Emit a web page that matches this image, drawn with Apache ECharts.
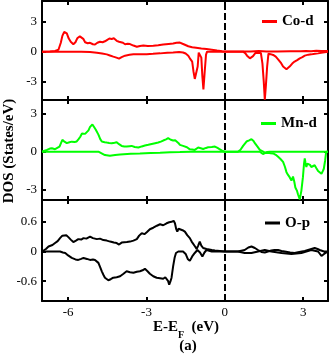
<!DOCTYPE html>
<html>
<head>
<meta charset="utf-8">
<title>DOS</title>
<script src="https://cdn.jsdelivr.net/npm/echarts@6/dist/echarts.min.js"></script>
<style>
  html, body { margin: 0; padding: 0; background: #fff; }
  #chart { width: 332px; height: 359px; }
</style>
</head>
<body>
<div id="chart"></div>
<script>
// [E - E_F (eV), DOS] pairs
const coUp = [[-7.0,0],[-6.7,0.02],[-6.5,0.08],[-6.37,0.2],[-6.28,0.9],[-6.22,1.6],[-6.15,2.0],[-6.05,1.85],[-5.98,1.35],[-5.9,1.0],[-5.8,0.75],[-5.72,0.95],[-5.65,1.35],[-5.55,1.55],[-5.48,1.67],[-5.42,1.3],[-5.35,0.95],[-5.25,0.85],[-5.16,0.9],[-5.05,0.75],[-4.97,0.72],[-4.88,0.9],[-4.78,1.0],[-4.68,0.95],[-4.59,1.05],[-4.5,1.2],[-4.42,1.33],[-4.33,1.28],[-4.25,1.35],[-4.14,1.1],[-4.05,1.0],[-4.0,0.85],[-3.9,0.9],[-3.82,0.75],[-3.72,0.8],[-3.63,0.77],[-3.5,0.62],[-3.37,0.5],[-3.25,0.58],[-3.12,0.62],[-2.95,0.58],[-2.74,0.6],[-2.55,0.65],[-2.36,0.72],[-2.15,0.78],[-1.98,0.82],[-1.85,0.9],[-1.72,0.92],[-1.62,0.8],[-1.53,0.7],[-1.4,0.55],[-1.25,0.45],[-1.1,0.4],[-0.9,0.33],[-0.7,0.27],[-0.5,0.2],[-0.3,0.12],[-0.1,0.05],[0,0.02],[0.5,0.02],[1.0,0.03],[1.3,0.06],[1.6,0.02],[2.0,0.03],[2.5,0.05],[2.9,0.04],[3.1,0.08],[3.3,0.05],[3.5,0.1],[3.7,0.06],[3.95,0.08]]
const coDn = [[-7.0,0],[-5.5,0],[-5.16,-0.02],[-4.9,-0.1],[-4.7,-0.18],[-4.52,-0.27],[-4.4,-0.38],[-4.27,-0.5],[-4.15,-0.6],[-4.05,-0.7],[-3.95,-0.55],[-3.82,-0.4],[-3.65,-0.32],[-3.5,-0.27],[-3.2,-0.27],[-2.99,-0.26],[-2.75,-0.22],[-2.48,-0.17],[-2.2,-0.1],[-1.98,-0.07],[-1.75,-0.03],[-1.6,-0.08],[-1.5,-0.18],[-1.4,-0.4],[-1.34,-0.67],[-1.25,-1.0],[-1.2,-2.0],[-1.15,-2.75],[-1.08,-2.8],[-1.04,-1.5],[-1.0,-0.1],[-0.95,-0.2],[-0.9,-0.6],[-0.86,-2.5],[-0.82,-3.8],[-0.77,-2.0],[-0.72,-0.3],[-0.68,0],[0.7,0],[0.78,-0.15],[0.85,-0.4],[0.96,-0.67],[1.08,-0.45],[1.18,-0.1],[1.25,0],[1.38,-0.12],[1.44,-1.2],[1.49,-3.0],[1.53,-4.85],[1.57,-3.5],[1.62,-1.5],[1.67,-0.2],[1.75,-0.25],[1.85,-0.33],[1.95,-0.5],[2.04,-0.77],[2.14,-1.1],[2.23,-1.5],[2.3,-1.7],[2.36,-1.77],[2.42,-1.7],[2.48,-1.5],[2.58,-1.2],[2.67,-1.0],[2.77,-0.85],[2.87,-0.67],[2.97,-0.55],[3.06,-0.4],[3.2,-0.3],[3.31,-0.27],[3.45,-0.2],[3.57,-0.17],[3.75,-0.08],[3.95,0]]
const mnUp = [[-7.0,0],[-6.9,0.08],[-6.81,0.14],[-6.7,0.25],[-6.62,0.27],[-6.5,0.2],[-6.43,0.2],[-6.33,0.4],[-6.22,0.95],[-6.14,0.8],[-6.05,0.68],[-5.95,0.75],[-5.86,0.8],[-5.75,0.78],[-5.67,0.82],[-5.6,1.0],[-5.54,1.17],[-5.47,1.45],[-5.41,1.54],[-5.35,1.42],[-5.29,1.41],[-5.22,1.7],[-5.16,1.98],[-5.07,2.17],[-5.0,1.95],[-4.94,1.75],[-4.84,1.36],[-4.77,1.0],[-4.71,0.81],[-4.6,0.76],[-4.52,0.73],[-4.43,0.7],[-4.33,0.68],[-4.22,0.72],[-4.14,0.76],[-4.05,0.6],[-3.95,0.46],[-3.85,0.42],[-3.76,0.41],[-3.65,0.44],[-3.57,0.46],[-3.45,0.38],[-3.31,0.33],[-3.18,0.42],[-3.06,0.49],[-2.93,0.55],[-2.8,0.62],[-2.67,0.68],[-2.55,0.73],[-2.45,0.8],[-2.36,0.89],[-2.25,0.98],[-2.17,1.08],[-2.07,0.95],[-1.98,0.89],[-1.9,0.92],[-1.85,0.89],[-1.78,0.7],[-1.72,0.54],[-1.6,0.46],[-1.53,0.54],[-1.45,0.35],[-1.34,0.19],[-1.25,0.18],[-1.15,0.14],[-1.02,0.33],[-0.92,0.28],[-0.83,0.22],[-0.72,0.3],[-0.64,0.35],[-0.5,0.38],[-0.38,0.41],[-0.28,0.3],[-0.19,0.19],[-0.08,0.05],[0,0],[0.5,0],[0.6,0.15],[0.7,0.46],[0.83,0.81],[0.93,0.9],[1.02,1.0],[1.1,0.85],[1.15,0.68],[1.25,0.4],[1.34,0.14],[1.45,0.02],[1.53,-0.08],[1.62,-0.02],[1.72,0],[3.95,0]]
const mnDn = [[-7.0,0],[-4.84,0],[-4.7,-0.15],[-4.59,-0.27],[-4.4,-0.33],[-4.2,-0.27],[-4.01,-0.22],[-3.6,-0.17],[-3.25,-0.14],[-2.85,-0.1],[-2.48,-0.08],[-2.1,-0.05],[-1.72,-0.03],[-1.3,0],[1.34,0],[1.46,-0.19],[1.56,-0.1],[1.66,-0.08],[1.75,-0.12],[1.85,-0.14],[1.95,-0.25],[2.04,-0.41],[2.14,-0.6],[2.23,-0.81],[2.3,-1.2],[2.36,-1.63],[2.42,-1.85],[2.48,-2.03],[2.55,-2.3],[2.61,-1.98],[2.66,-2.4],[2.7,-2.85],[2.76,-3.1],[2.8,-3.39],[2.87,-3.8],[2.93,-3.12],[2.99,-2.03],[3.03,-1.0],[3.06,-0.54],[3.09,-0.9],[3.12,-1.22],[3.16,-0.95],[3.21,-0.81],[3.26,-1.05],[3.31,-1.22],[3.38,-1.1],[3.44,-1.08],[3.5,-1.3],[3.57,-1.54],[3.64,-1.6],[3.7,-1.76],[3.75,-1.55],[3.79,-1.36],[3.84,-0.7],[3.88,0],[3.95,0]]
const oUp = [[-7.0,0],[-6.94,0],[-6.85,0.05],[-6.75,0.1],[-6.6,0.13],[-6.5,0.17],[-6.4,0.21],[-6.31,0.27],[-6.22,0.32],[-6.15,0.35],[-6.07,0.33],[-5.99,0.29],[-5.9,0.24],[-5.8,0.19],[-5.7,0.22],[-5.61,0.25],[-5.5,0.24],[-5.41,0.27],[-5.3,0.26],[-5.16,0.3],[-5.05,0.27],[-4.9,0.25],[-4.78,0.26],[-4.65,0.23],[-4.52,0.22],[-4.39,0.2],[-4.25,0.18],[-4.14,0.17],[-4.05,0.14],[-3.95,0.18],[-3.89,0.2],[-3.75,0.19],[-3.63,0.2],[-3.5,0.22],[-3.37,0.25],[-3.28,0.32],[-3.18,0.37],[-3.08,0.35],[-2.99,0.39],[-2.87,0.45],[-2.74,0.48],[-2.6,0.52],[-2.48,0.55],[-2.36,0.53],[-2.23,0.57],[-2.13,0.59],[-2.04,0.6],[-1.96,0.62],[-1.91,0.57],[-1.86,0.45],[-1.82,0.4],[-1.77,0.46],[-1.72,0.45],[-1.62,0.43],[-1.53,0.4],[-1.44,0.33],[-1.34,0.27],[-1.27,0.2],[-1.21,0.17],[-1.14,0.1],[-1.08,0.05],[-1.02,0.12],[-0.96,0.2],[-0.9,0.12],[-0.83,0.07],[-0.7,0.05],[-0.5,0.03],[-0.38,0.02],[0,0],[0.5,0],[0.76,0.03],[0.9,0.08],[1.02,0.1],[1.15,0.07],[1.27,0.03],[1.4,-0.01],[1.53,-0.02],[1.65,0],[1.78,0.02],[1.9,0.03],[2.04,0.03],[2.17,0.01],[2.29,0],[2.5,-0.02],[2.67,-0.03],[2.85,-0.01],[3.06,0.01],[3.25,0.04],[3.44,0.07],[3.55,0.05],[3.63,0.03],[3.8,0],[3.95,0]]
const oDn = [[-7.0,0],[-6.31,0],[-6.2,-0.02],[-6.11,-0.03],[-6.0,-0.08],[-5.86,-0.13],[-5.72,-0.16],[-5.61,-0.17],[-5.5,-0.15],[-5.41,-0.13],[-5.28,-0.15],[-5.16,-0.17],[-5.05,-0.16],[-4.97,-0.17],[-4.9,-0.2],[-4.84,-0.23],[-4.77,-0.32],[-4.71,-0.4],[-4.65,-0.47],[-4.59,-0.53],[-4.52,-0.57],[-4.46,-0.58],[-4.37,-0.56],[-4.27,-0.53],[-4.14,-0.52],[-4.01,-0.5],[-3.88,-0.45],[-3.76,-0.4],[-3.63,-0.42],[-3.5,-0.43],[-3.37,-0.41],[-3.25,-0.4],[-3.15,-0.38],[-3.06,-0.35],[-2.96,-0.4],[-2.87,-0.45],[-2.74,-0.5],[-2.61,-0.53],[-2.48,-0.54],[-2.36,-0.55],[-2.28,-0.52],[-2.23,-0.5],[-2.17,-0.6],[-2.13,-0.67],[-2.08,-0.6],[-2.04,-0.53],[-1.98,-0.3],[-1.92,-0.12],[-1.87,-0.03],[-1.78,0],[-1.6,0],[-1.5,-0.05],[-1.42,-0.15],[-1.34,-0.19],[-1.25,-0.1],[-1.15,-0.03],[-1.05,0.03],[-0.95,-0.02],[-0.86,-0.1],[-0.78,-0.02],[-0.7,0.03],[-0.5,0],[0.5,0],[0.76,-0.03],[1.02,-0.03],[1.27,0],[1.53,0.03],[1.78,0],[2.17,-0.03],[2.55,-0.05],[2.93,-0.03],[3.31,0.03],[3.57,0],[3.7,-0.09],[3.8,-0.05],[3.95,0]]

const xTicks = [-6, -3, 0, 3]
const yTicks = [[-3, 0, 3], [-3, 0, 3], [-0.6, 0, 0.6]]
const names = ['Co-d', 'Mn-d', 'O-p']
const colors = ['#ff0000', '#00ff00', '#000000']
const curves = [[coUp, coDn], [mnUp, mnDn], [oUp, oDn]]

const FONT = 'Liberation Serif'
const xRange = [-7, 3.95]
const yRanges = [[-4.88, 5.12], [-3.85, 4.12], [-1.0, 1.04]]
const tops = [1, 100, 200]
const heights = [99, 100, 101]
const legendPos = [[262, 13.5], [261, 115.5], [265, 215]]

const frameLine = { onZero: false, lineStyle: { color: '#000', width: 2 } }

const makeX = (i, position) => ({
  gridIndex: i,
  type: 'value',
  position,
  min: xRange[0],
  max: xRange[1],
  axisLine: frameLine,
  axisTick: { inside: true, length: 4, customValues: xTicks, lineStyle: { color: '#000', width: 2 } },
  axisLabel: {
    show: position === 'bottom' && i === 2,
    customValues: xTicks,
    margin: 5,
    color: '#000',
    fontFamily: FONT,
    fontSize: 13
  },
  splitLine: { show: false }
})

const makeY = (i, position) => ({
  gridIndex: i,
  type: 'value',
  position,
  min: yRanges[i][0],
  max: yRanges[i][1],
  axisLine: frameLine,
  axisTick: { inside: true, length: 4, customValues: yTicks[i], lineStyle: { color: '#000', width: 2 } },
  axisLabel: {
    show: position === 'left',
    customValues: yTicks[i],
    margin: 5,
    color: '#000',
    fontFamily: FONT,
    fontSize: 13
  },
  splitLine: { show: false }
})

const option = {
  animation: false,
  backgroundColor: '#fff',
  grid: tops.map((t, i) => ({ left: 42, right: 4, top: t, height: heights[i] })),
  xAxis: [0, 1, 2].flatMap(i => [makeX(i, 'bottom'), makeX(i, 'top')]),
  yAxis: [0, 1, 2].flatMap(i => [makeY(i, 'left'), makeY(i, 'right')]),
  legend: names.map((n, i) => ({
    data: [n],
    left: legendPos[i][0],
    top: legendPos[i][1],
    padding: 0,
    icon: 'rect',
    itemWidth: 15,
    itemHeight: 3,
    textStyle: { fontFamily: FONT, fontSize: 15, fontWeight: 'bold', color: '#000', lineHeight: 16 }
  })),
  series: curves.flatMap((pair, i) => pair.map((d, k) => ({
    name: names[i],
    type: 'line',
    xAxisIndex: 2 * i,
    yAxisIndex: 2 * i,
    data: d,
    showSymbol: false,
    symbol: 'none',
    lineStyle: { color: colors[i], width: 2 },
    itemStyle: { color: colors[i] },
    markLine: k === 0 ? {
      silent: true,
      symbol: ['none', 'none'],
      label: { show: false },
      lineStyle: { color: '#000', width: 2, type: [7, 3] },
      data: [{ xAxis: 0 }]
    } : undefined
  }))),
  graphic: [
    {
      type: 'text',
      x: 9,
      y: 151,
      rotation: Math.PI / 2,
      style: {
        text: 'DOS (States/eV)',
        font: 'bold 15px "Liberation Serif"',
        fill: '#000',
        textAlign: 'center',
        textVerticalAlign: 'middle'
      }
    },
    {
      type: 'text',
      x: 186,
      y: 328,
      style: {
        text: '{a|E-E}{b|F}{a|  (eV)}',
        textAlign: 'center',
        textVerticalAlign: 'middle',
        rich: {
          a: { font: 'bold 15px "Liberation Serif"', fill: '#000', lineHeight: 16, verticalAlign: 'top' },
          b: { font: 'bold 10px "Liberation Serif"', fill: '#000', lineHeight: 10, padding: [10, 0, 0, 0], verticalAlign: 'top' }
        }
      }
    },
    {
      type: 'text',
      x: 188,
      y: 346,
      style: {
        text: '(a)',
        font: 'bold 15px "Liberation Serif"',
        fill: '#000',
        textAlign: 'center',
        textVerticalAlign: 'middle'
      }
    }
  ]
}

const chart = echarts.init(document.getElementById('chart'))
chart.setOption(option)
</script>
</body>
</html>
